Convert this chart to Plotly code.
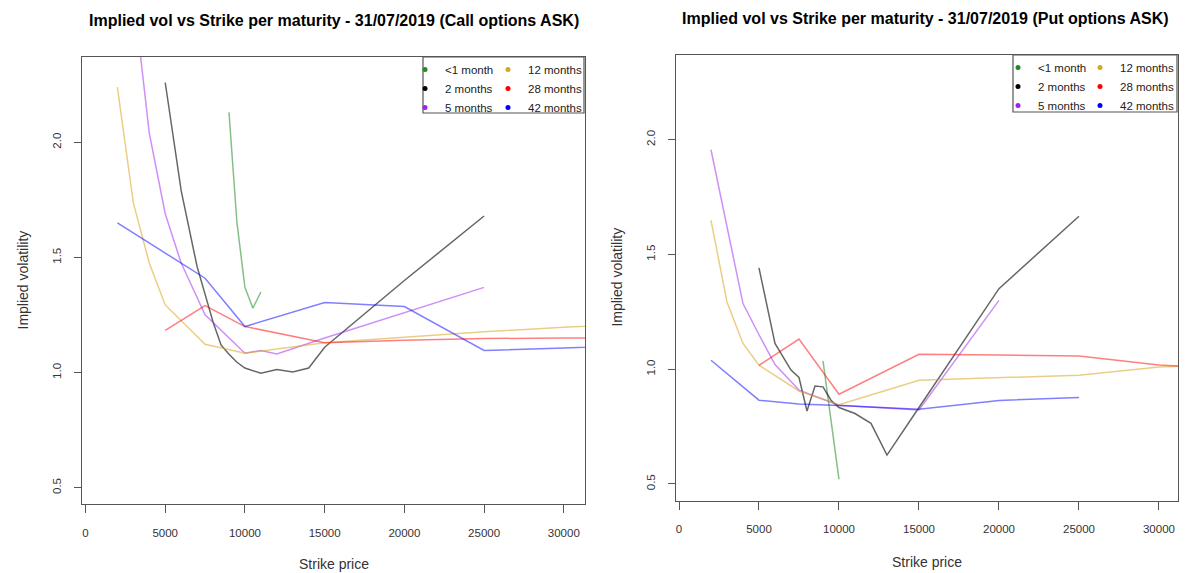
import plotly.graph_objects as go

# ---------------- data ----------------
maturities = ["<1 month", "2 months", "5 months", "12 months", "28 months", "42 months"]
legend_labels = ["&lt;1 month", "2 months", "5 months", "12 months", "28 months", "42 months"]

# Call options ASK (left panel)
call_lt1_strike = [9000, 9500, 10000, 10500, 11000]
call_lt1_iv = [2.13, 1.65, 1.37, 1.28, 1.35]
call_2m_strike = [5000, 6000, 7000, 8000, 8500, 9000, 9500, 10000, 11000, 12000, 13000, 14000, 15000, 20000, 25000]
call_2m_iv = [2.26, 1.79, 1.46, 1.22, 1.12, 1.08, 1.045, 1.02, 0.997, 1.013, 1.003, 1.02, 1.11, 1.40, 1.68]
call_5m_strike = [3000, 4000, 5000, 6000, 7500, 10000, 11000, 12000, 15000, 20000, 25000]
call_5m_iv = [2.65, 2.04, 1.69, 1.476, 1.251, 1.084, 1.096, 1.081, 1.15, 1.26, 1.37]
call_12m_strike = [2000, 3000, 4000, 5000, 7500, 10000, 15000, 20000, 25000, 30000, 35000]
call_12m_iv = [2.24, 1.737, 1.476, 1.294, 1.123, 1.084, 1.13, 1.155, 1.177, 1.197, 1.215]
call_28m_strike = [5000, 7500, 10000, 15000, 20000, 25000, 30000, 35000]
call_28m_iv = [1.183, 1.291, 1.20, 1.13, 1.14, 1.148, 1.15, 1.15]
call_42m_strike = [2000, 5000, 7500, 10000, 15000, 20000, 25000, 30000, 35000]
call_42m_iv = [1.65, 1.519, 1.41, 1.20, 1.304, 1.287, 1.096, 1.107, 1.118]

# Put options ASK (right panel)
put_lt1_strike = [9000, 9500, 10000]
put_lt1_iv = [1.036, 0.78, 0.52]
put_2m_strike = [5000, 6000, 7000, 7500, 8000, 8500, 9000, 9500, 10000, 11000, 12000, 13000, 15000, 20000, 25000]
put_2m_iv = [1.441, 1.112, 0.996, 0.964, 0.818, 0.927, 0.923, 0.865, 0.833, 0.807, 0.764, 0.626, 0.833, 1.351, 1.666]
put_5m_strike = [2000, 3000, 4000, 5000, 6000, 7500, 10000, 15000, 20000]
put_5m_iv = [1.956, 1.62, 1.286, 1.15, 1.02, 0.909, 0.843, 0.822, 1.30]
put_12m_strike = [2000, 3000, 4000, 5000, 7500, 10000, 15000, 20000, 25000, 30000, 35000]
put_12m_iv = [1.648, 1.293, 1.112, 1.017, 0.905, 0.845, 0.952, 0.962, 0.974, 1.01, 1.02]
put_28m_strike = [5000, 7500, 10000, 15000, 20000, 25000, 30000, 35000]
put_28m_iv = [1.017, 1.131, 0.891, 1.065, 1.062, 1.057, 1.018, 1.0]
put_42m_strike = [2000, 5000, 7500, 10000, 15000, 20000, 25000]
put_42m_iv = [1.039, 0.865, 0.848, 0.842, 0.825, 0.864, 0.877]

x_ticks = [0, 5000, 10000, 15000, 20000, 25000, 30000]
y_ticks = [0.5, 1.0, 1.5, 2.0]

call_series = [(call_lt1_strike, call_lt1_iv), (call_2m_strike, call_2m_iv), (call_5m_strike, call_5m_iv),
               (call_12m_strike, call_12m_iv), (call_28m_strike, call_28m_iv), (call_42m_strike, call_42m_iv)]
put_series = [(put_lt1_strike, put_lt1_iv), (put_2m_strike, put_2m_iv), (put_5m_strike, put_5m_iv),
              (put_12m_strike, put_12m_iv), (put_28m_strike, put_28m_iv), (put_42m_strike, put_42m_iv)]

# ---------------- style ----------------
base_rgb = [(34, 139, 34), (0, 0, 0), (160, 32, 240), (218, 165, 32), (255, 0, 0), (0, 0, 255)]
line_alpha = [0.55, 0.6, 0.5, 0.55, 0.5, 0.5]
FONT = "Liberation Sans, Arial, sans-serif"
W, H = 1200, 573

def px_x(v):
    return v / W

def px_y(v):
    return 1 - v / H

fig = go.Figure()

panels = [
    dict(series=call_series, xa="x", ya="y", legends=("legend", "legend2")),
    dict(series=put_series, xa="x2", ya="y2", legends=("legend3", "legend4")),
]

for p in panels:
    for i, (xs, ys) in enumerate(p["series"]):
        r, g, b = base_rgb[i]
        fig.add_trace(go.Scatter(
            x=xs, y=ys, mode="lines", xaxis=p["xa"], yaxis=p["ya"],
            line=dict(color=f"rgba({r},{g},{b},{line_alpha[i]})", width=1.5),
            showlegend=False, hoverinfo="skip", name=maturities[i]))
    for i in range(6):
        r, g, b = base_rgb[i]
        fig.add_trace(go.Scatter(
            x=[None], y=[None], mode="markers", xaxis=p["xa"], yaxis=p["ya"],
            marker=dict(color=f"rgb({r},{g},{b})", size=5),
            name=legend_labels[i], showlegend=True,
            legend=p["legends"][0] if i < 3 else p["legends"][1]))

axis_common = dict(
    showgrid=False, zeroline=False, showline=True, mirror=True,
    linecolor="#555555", linewidth=1.3, ticks="outside", tickcolor="#555555",
    tickfont=dict(family=FONT, size=11.5, color="#333333"), fixedrange=True,
)

xcommon = dict(axis_common, tickvals=x_ticks, tickformat="d", ticklen=8, ticklabelstandoff=10)
ycommon = dict(axis_common, tickvals=y_ticks, tickformat=".1f", ticklen=7, tickangle=-90, ticklabelstandoff=8)

legend_common = dict(xanchor="left", yanchor="top", bgcolor="rgba(0,0,0,0)", borderwidth=0,
                     font=dict(family=FONT, size=11.5, color="#222222"), itemwidth=30, tracegroupgap=0,
                     itemclick=False, itemdoubleclick=False)

fig.update_layout(
    width=W, height=H, autosize=False,
    margin=dict(l=0, r=0, t=0, b=0),
    paper_bgcolor="white", plot_bgcolor="white",
    font=dict(family=FONT),
    xaxis=dict(xcommon, domain=[px_x(82), px_x(585)], range=[-220, 31330], anchor="y"),
    yaxis=dict(ycommon, domain=[px_y(504.3), px_y(56.7)], range=[0.428, 2.372], anchor="x"),
    xaxis2=dict(xcommon, domain=[px_x(675.7), px_x(1178)], range=[-206, 31190], anchor="y2"),
    yaxis2=dict(ycommon, domain=[px_y(500.5), px_y(54.7)], range=[0.428, 2.37], anchor="x2"),
    legend=dict(legend_common, x=px_x(405), y=px_y(55)),
    legend2=dict(legend_common, x=px_x(488), y=px_y(55)),
    legend3=dict(legend_common, x=px_x(998), y=px_y(53)),
    legend4=dict(legend_common, x=px_x(1080), y=px_y(53)),
    shapes=[
        dict(type="rect", xref="paper", yref="paper", x0=px_x(423), x1=px_x(584), y0=px_y(113), y1=px_y(57),
             line=dict(color="#555555", width=1.2), fillcolor="rgba(0,0,0,0)"),
        dict(type="rect", xref="paper", yref="paper", x0=px_x(1013), x1=px_x(1177), y0=px_y(112), y1=px_y(55),
             line=dict(color="#555555", width=1.2), fillcolor="rgba(0,0,0,0)"),
    ],
    annotations=[
        dict(text="<b>Implied vol vs Strike per maturity - 31/07/2019 (Call options ASK)</b>",
             xref="paper", yref="paper", x=px_x(333.5), y=px_y(20.5), xanchor="center", yanchor="middle",
             showarrow=False, font=dict(family=FONT, size=16, color="black")),
        dict(text="<b>Implied vol vs Strike per maturity - 31/07/2019 (Put options ASK)</b>",
             xref="paper", yref="paper", x=px_x(925), y=px_y(18.5), xanchor="center", yanchor="middle",
             showarrow=False, font=dict(family=FONT, size=16, color="black")),
        dict(text="Implied volatility", xref="paper", yref="paper", x=px_x(22), y=px_y(280.5),
             xanchor="center", yanchor="middle", textangle=-90, showarrow=False,
             font=dict(family=FONT, size=14, color="#333333")),
        dict(text="Implied volatility", xref="paper", yref="paper", x=px_x(617), y=px_y(277.6),
             xanchor="center", yanchor="middle", textangle=-90, showarrow=False,
             font=dict(family=FONT, size=14, color="#333333")),
        dict(text="Strike price", xref="paper", yref="paper", x=px_x(333.5), y=px_y(563.5),
             xanchor="center", yanchor="middle", showarrow=False,
             font=dict(family=FONT, size=14, color="#333333")),
        dict(text="Strike price", xref="paper", yref="paper", x=px_x(926.9), y=px_y(562),
             xanchor="center", yanchor="middle", showarrow=False,
             font=dict(family=FONT, size=14, color="#333333")),
    ],
)

fig.write_html("out.html")
